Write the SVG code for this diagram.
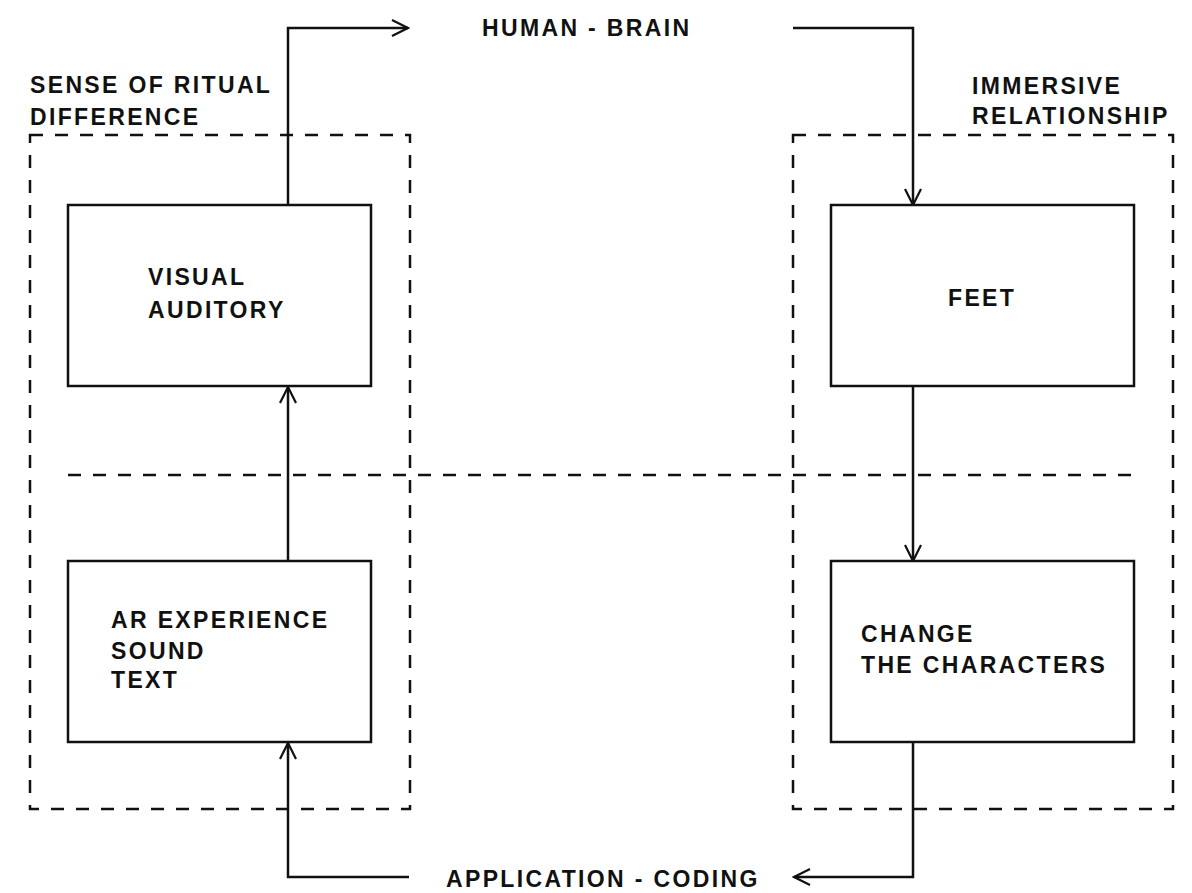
<svg xmlns="http://www.w3.org/2000/svg" width="1192" height="893" viewBox="0 0 1192 893">
  <style>
    .lbl { font-family: "Liberation Sans", Arial, sans-serif; font-weight: bold; font-size: 23px; letter-spacing: 2.35px; fill: #111; }
    .box { fill: #fff; stroke: #111; stroke-width: 2.5; }
    .zone { fill: none; stroke: #111; stroke-width: 2.5; stroke-dasharray: 13 12; }
    .wire { fill: none; stroke: #111; stroke-width: 2.5; }
  </style>
  <defs>
    <marker id="open" viewBox="0 0 20 20" refX="18" refY="10" markerWidth="20" markerHeight="20" markerUnits="userSpaceOnUse" orient="auto">
      <path d="M2 2 L18 10 L2 18" fill="none" stroke="#111" stroke-width="2.2"/>
    </marker>
  </defs>
  <rect width="1192" height="893" fill="#fff"/>

  <!-- dashed zones and divider -->
  <g id="zones">
    <rect class="zone" x="30" y="135" width="380" height="674"/>
    <rect class="zone" x="793" y="135" width="380" height="674"/>
    <line class="zone" x1="68" y1="475" x2="1135" y2="475"/>
  </g>

  <!-- connectors -->
  <g id="connectors">
    <path class="wire" d="M288 205 V28 H408" marker-end="url(#open)"/>
    <path class="wire" d="M793 28 H913 V205" marker-end="url(#open)"/>
    <path class="wire" d="M913 386 V561" marker-end="url(#open)"/>
    <path class="wire" d="M913 742 V877 H794" marker-end="url(#open)"/>
    <path class="wire" d="M409 877 H288 V743" marker-end="url(#open)"/>
    <path class="wire" d="M288 561 V387" marker-end="url(#open)"/>
  </g>

  <!-- zone titles -->
  <g id="title-ritual">
    <text class="lbl" x="30" y="93">SENSE OF RITUAL</text>
    <text class="lbl" x="30" y="125">DIFFERENCE</text>
  </g>
  <g id="title-immersive">
    <text class="lbl" x="972" y="94">IMMERSIVE</text>
    <text class="lbl" x="972" y="124">RELATIONSHIP</text>
  </g>
  <g id="label-brain">
    <text class="lbl" x="482" y="36">HUMAN - BRAIN</text>
  </g>
  <g id="label-coding">
    <text class="lbl" x="446" y="887">APPLICATION - CODING</text>
  </g>

  <!-- nodes -->
  <g id="node-visual">
    <rect class="box" x="68" y="205" width="303" height="181"/>
    <text class="lbl" x="148" y="285">VISUAL</text>
    <text class="lbl" x="148" y="318">AUDITORY</text>
  </g>
  <g id="node-ar">
    <rect class="box" x="68" y="561" width="303" height="181"/>
    <text class="lbl" x="111" y="628">AR EXPERIENCE</text>
    <text class="lbl" x="111" y="659">SOUND</text>
    <text class="lbl" x="111" y="688">TEXT</text>
  </g>
  <g id="node-feet">
    <rect class="box" x="831" y="205" width="303" height="181"/>
    <text class="lbl" x="948" y="306">FEET</text>
  </g>
  <g id="node-change">
    <rect class="box" x="831" y="561" width="303" height="181"/>
    <text class="lbl" x="861" y="642">CHANGE</text>
    <text class="lbl" x="861" y="673">THE CHARACTERS</text>
  </g>
</svg>
